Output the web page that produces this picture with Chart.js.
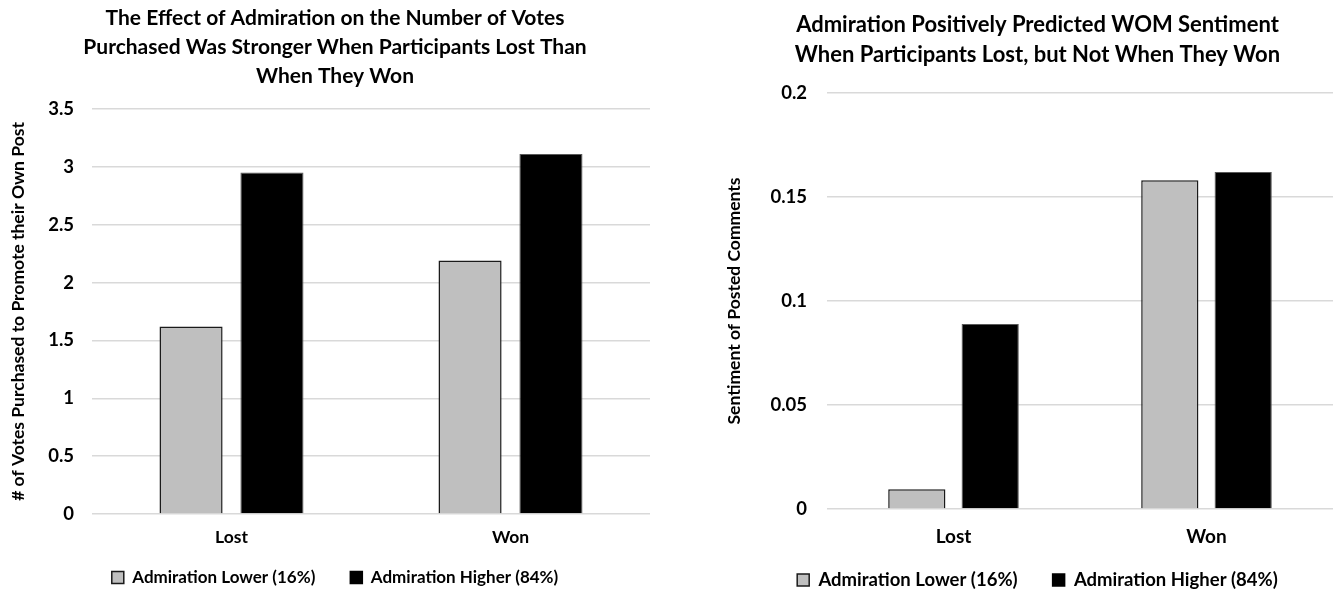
<!DOCTYPE html>
<html>
<head>
<meta charset="utf-8">
<script src="https://cdn.jsdelivr.net/npm/chart.js@4"></script>
<style>
  html, body { margin: 0; padding: 0; background: #fff; overflow: hidden; }
  #wrap { position: relative; width: 1336px; height: 592px; overflow: hidden; }
  .box { position: absolute; top: 0; width: 668px; height: 592px; overflow: hidden; }
</style>
</head>
<body>
<div id="wrap">
  <div class="box" style="left:0px"><canvas id="votesChart" width="668" height="596"></canvas></div>
  <div class="box" style="left:702px"><canvas id="womChart" width="668" height="600"></canvas></div>
</div>
<script>
// categories
const outcomes = ["Lost", "Won"];

// series names
const seriesNames = ["Admiration Lower (16%)", "Admiration Higher (84%)"];

// left chart: votes purchased
const votesLower = [1.62, 2.19];
const votesHigher = [2.95, 3.11];
const votesTicks = ["0", "0.5", "1", "1.5", "2", "2.5", "3", "3.5"];

// right chart: sentiment of comments
const sentimentLower = [0.0095, 0.158];
const sentimentHigher = [0.089, 0.162];
const sentimentTicks = ["0", "0.05", "0.1", "0.15", "0.2"];

const FONT = "Lato, 'Open Sans', sans-serif";

Chart.defaults.font.family = FONT;
Chart.defaults.color = "#000";

function makeChart(id, opts) {

    const ctx = document.getElementById(id);

    return new Chart(ctx, {

        type: "bar",

        data: {
            labels: outcomes,
            datasets: [
                {
                    label: seriesNames[0],
                    data: opts.lower,
                    backgroundColor: "#bfbfbf",
                    borderColor: "#1a1a1a",
                    borderWidth: 1.5
                },
                {
                    label: seriesNames[1],
                    data: opts.higher,
                    backgroundColor: "#000000",
                    borderColor: "#595959",
                    borderWidth: 1
                }
            ]
        },

        options: {
            responsive: false,
            animation: false,
            categoryPercentage: 0.58,
            barPercentage: 0.78,
            layout: {
                padding: {
                    left: opts.padLeft,
                    right: opts.padRight,
                    top: 0,
                    bottom: opts.padBottom
                }
            },
            plugins: {
                tooltip: { enabled: false },
                title: {
                    display: true,
                    text: opts.title,
                    font: { size: opts.titleSize, weight: "bold", lineHeight: opts.titleLH },
                    color: "#000",
                    padding: { top: opts.titleTop, bottom: opts.titleBottom }
                },
                legend: {
                    position: "bottom",
                    labels: {
                        boxWidth: 12,
                        boxHeight: 12,
                        padding: 35,
                        color: "#000",
                        font: { size: opts.legendSize, weight: "bold" },
                        generateLabels: (chart) =>
                            chart.data.datasets.map((ds, i) => ({
                                text: ds.label,
                                fillStyle: ds.backgroundColor,
                                strokeStyle: i === 0 ? "#1a1a1a" : "#000",
                                lineWidth: 1.5,
                                datasetIndex: i
                            }))
                    }
                }
            },
            scales: {
                x: {
                    grid: { display: false, drawTicks: false, tickLength: 0 },
                    border: { display: false },
                    ticks: {
                        // mirrored labels are not clipped to the axis box
                        mirror: true,
                        padding: -opts.xLabelOffset,
                        color: "#000",
                        font: { size: opts.xSize, weight: "bold" }
                    },
                    afterFit: (scale) => {
                        scale.height = opts.xHeight;
                    }
                },
                y: {
                    min: 0,
                    max: opts.max,
                    ticks: {
                        stepSize: opts.step,
                        padding: opts.yPad,
                        color: "#000",
                        font: { size: 18.5, weight: "bold" },
                        callback: (value, index) => opts.tickLabels[index]
                    },
                    grid: {
                        color: "#d9d9d9",
                        lineWidth: 1.5,
                        drawTicks: false
                    },
                    border: { display: false },
                    title: {
                        display: true,
                        text: opts.yTitle,
                        color: "#000",
                        font: { size: 17.5, weight: "bold" },
                        padding: { top: opts.yTitleTop, bottom: 0 }
                    },
                    afterFit: (scale) => {
                        scale.width = opts.yWidth;
                    }
                }
            }
        }

    });

}

makeChart("votesChart", {
    lower: votesLower,
    higher: votesHigher,
    max: 3.5,
    step: 0.5,
    tickLabels: votesTicks,
    title: [
        "The Effect of Admiration on the Number of Votes",
        "Purchased Was Stronger When Participants Lost Than",
        "When They Won"
    ],
    titleSize: 21,
    titleLH: 1.38,
    titleTop: 3.5,
    titleBottom: 18.5,
    legendSize: 17,
    xSize: 17.5,
    xLabelOffset: 33.5,
    xHeight: 20,
    yTitle: "# of Votes Purchased to Promote their Own Post",
    yTitleTop: -12,
    yWidth: 72,
    yPad: 18,
    padLeft: 20,
    padRight: 18,
    padBottom: 0
});

makeChart("womChart", {
    lower: sentimentLower,
    higher: sentimentHigher,
    max: 0.2,
    step: 0.05,
    tickLabels: sentimentTicks,
    title: [
        "Admiration Positively Predicted WOM Sentiment",
        "When Participants Lost, but Not When They Won"
    ],
    titleSize: 22,
    titleLH: 1.364,
    titleTop: 10,
    titleBottom: 23,
    legendSize: 18.5,
    xSize: 19,
    xLabelOffset: 39.4,
    xHeight: 26.75,
    yTitle: "Sentiment of Posted Comments",
    yTitleTop: -18,
    yWidth: 85,
    yPad: 20,
    padLeft: 40,
    padRight: 37,
    padBottom: 0.75
});
</script>
</body>
</html>
